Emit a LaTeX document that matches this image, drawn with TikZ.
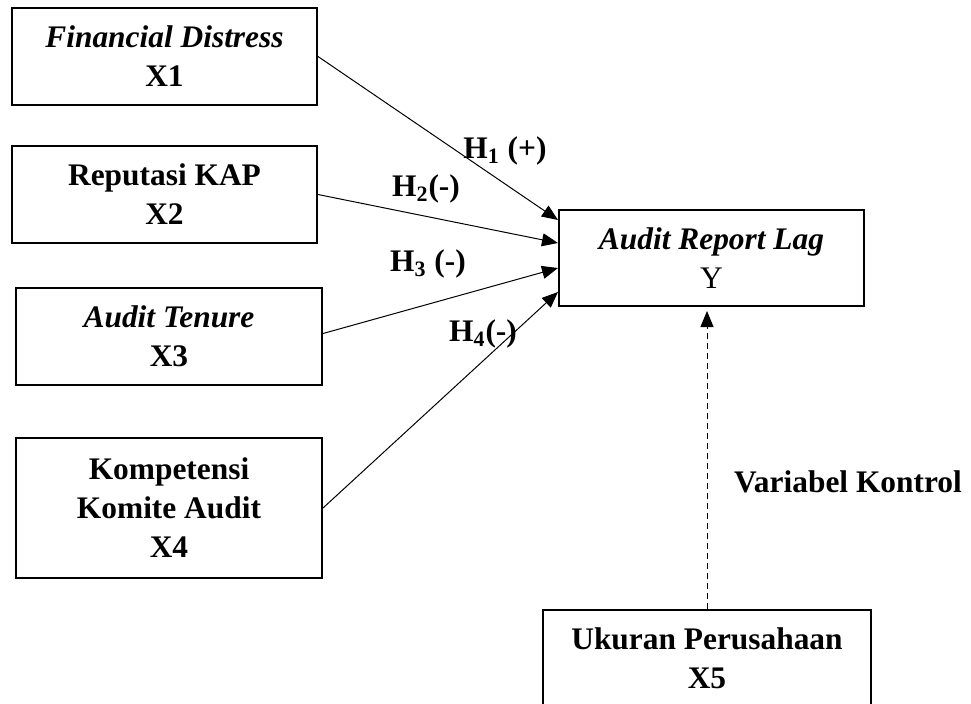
\documentclass[tikz,border=0pt]{standalone}
\usepackage{fontspec}
\setmainfont{Liberation Serif}
\usepackage{tikz}
\usetikzlibrary{arrows.meta,calc}
\tikzset{
  every picture/.style={font=\fontsize{15.7}{19.5}\selectfont\bfseries, line width=0.5pt},
  varbox/.style={draw, line width=1pt, align=center, inner sep=0pt, minimum width=#1, minimum height=48.5pt},
  varbox/.default=152.5pt,
  arrow/.style={-{Triangle[length=8pt, width=6.5pt]}},
  ctrlarrow/.style={arrow, dash pattern=on 3pt off 2pt},
  hyp/.style={inner sep=0pt},
}

\begin{document}
\begin{tikzpicture}[x=0.5pt, y=-0.5pt]
  \useasboundingbox (0,0) rectangle (971,703);
  \clip (0,0) rectangle (971,703);
  % independent variables
  \node[varbox] (x1) at (164.5,56.5) {\textit{Financial Distress}\\X1};
  \node[varbox] (x2) at (164.5,194.5) {Reputasi KAP\\X2};
  \node[varbox=153pt] (x3) at (169,336.5) {\textit{Audit Tenure}\\X3};
  \node[varbox=153pt, minimum height=70pt] (x4) at (169,508) {Kompetensi\\Komite Audit\\X4};
  % dependent and control
  \node[varbox, minimum height=48pt] (y) at (711.5,258) {\textit{Audit Report Lag}\\\mdseries Y};
  \node[varbox=164pt] (x5) at (707,658.5) {Ukuran Perusahaan\\X5};
  \draw[arrow] (x1.east) -- ([yshift=19pt]y.west);
  \draw[arrow] (x2.east) -- ([yshift=7.5pt]y.west);
  \draw[arrow] ([yshift=1.5pt]x3.east) -- ([yshift=-5pt]y.west);
  \draw[arrow] (x4.east) -- ([yshift=-17pt]y.west);
  \draw[ctrlarrow, shorten >=2pt] (x5.north) -- (x5.north |- y.south);
  % hypothesis labels
  \node[hyp] (h1) at (505,151) {H\textsubscript{1} (+)};
  \node[hyp] (h2) at (426,189) {H\textsubscript{2}(-)};
  \node[hyp] (h3) at (428,264) {H\textsubscript{3} (-)};
  \node[hyp] (h4) at (483,334) {H\textsubscript{4}(-)};
  \node[hyp] (ctrl) at (848,482) {Variabel Kontrol};
\end{tikzpicture}
\end{document}
